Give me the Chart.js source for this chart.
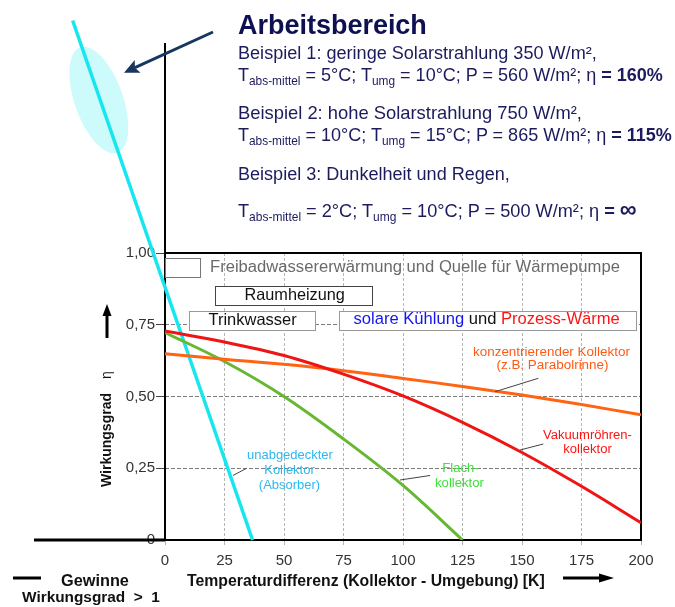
<!DOCTYPE html>
<html><head><meta charset="utf-8">
<script src="https://cdn.jsdelivr.net/npm/chart.js@4/dist/chart.umd.min.js"></script>
<style>
html,body{margin:0;padding:0;background:#fff;}
#wrap{position:relative;width:675px;height:607px;overflow:hidden;background:#fff;}
canvas{position:absolute;left:0;top:0;}
.lbl{position:absolute;white-space:nowrap;line-height:1;font-family:'Liberation Sans',Arial,sans-serif;}
.lbl sub{font-size:0.66em;vertical-align:-0.32em;line-height:0;}
.box{position:absolute;background:#fff;box-sizing:border-box;}
.rot{position:absolute;white-space:nowrap;line-height:1;font-family:'Liberation Sans',Arial,sans-serif;transform-origin:0 0;transform:rotate(-90deg);color:#111;}
</style></head><body>
<div id="wrap"><canvas id="c" width="675" height="607"></canvas></div>
<script>
// ---------------- data ----------------
const tempDiff    = [0, 25, 50, 75, 100, 125, 150, 175, 200];
const vakuumEta   = [0.728, 0.690, 0.643, 0.578, 0.502, 0.410, 0.305, 0.187, 0.060];
const konzEta     = [0.649, 0.630, 0.612, 0.590, 0.563, 0.535, 0.505, 0.472, 0.436];
const flachTemp   = [0, 25, 50, 75, 100, 125];
const flachEta    = [0.723, 0.622, 0.500, 0.352, 0.190, 0.000];
const absorberTemp = [-38.8, 36.8];
const absorberEta  = [1.81, 0.00];
const xTickLabels = ['0','25','50','75','100','125','150','175','200'];
const yTickLabels = ['0','0,25','0,50','0,75','1,00'];

const FONT = "'Liberation Sans', Arial, sans-serif";
const pts = (xs, ys) => xs.map((x, i) => ({x: x, y: ys[i]}));

function arrow(ctx, x1, y1, x2, y2, w, head, hw, notch, color){
  const ang = Math.atan2(y2 - y1, x2 - x1);
  const c = Math.cos(ang), s = Math.sin(ang);
  const bx = x2 - head * c, by = y2 - head * s;
  ctx.strokeStyle = color; ctx.fillStyle = color; ctx.lineWidth = w; ctx.lineCap = 'butt';
  ctx.beginPath(); ctx.moveTo(x1, y1); ctx.lineTo(bx + notch * c, by + notch * s); ctx.stroke();
  ctx.beginPath(); ctx.moveTo(x2, y2);
  ctx.lineTo(bx + hw * s, by - hw * c);
  ctx.lineTo(bx + notch * c, by + notch * s);
  ctx.lineTo(bx - hw * s, by + hw * c);
  ctx.closePath(); ctx.fill();
}
function seg(ctx, x1, y1, x2, y2, w, color){
  ctx.strokeStyle = color; ctx.lineWidth = w;
  ctx.beginPath(); ctx.moveTo(x1, y1); ctx.lineTo(x2, y2); ctx.stroke();
}

const decor = {
  id: 'decor',
  beforeDatasetsDraw(chart){
    const ctx = chart.ctx, a = chart.chartArea;
    ctx.save();
    ctx.fillStyle = '#cdfbfb';
    ctx.beginPath(); ctx.ellipse(98.8, 100, 55.8, 24.3, 1.232, 0, Math.PI * 2); ctx.fill();
    ctx.strokeStyle = '#000'; ctx.lineWidth = 2;
    ctx.strokeRect(a.left, a.top, a.right - a.left, a.bottom - a.top);
    seg(ctx, a.left, 43, a.left, a.bottom, 2, '#000');
    seg(ctx, 34, a.bottom, a.left, a.bottom, 3, '#000');
    ctx.restore();
  },
  afterDatasetsDraw(chart){
    const ctx = chart.ctx;
    ctx.save();
    seg(ctx, 538.3, 378.3, 495, 391.7, 1, '#444');
    seg(ctx, 543.3, 444, 520, 450, 1, '#444');
    seg(ctx, 430, 475.5, 400, 480, 1, '#444');
    seg(ctx, 246.5, 468.3, 233, 475.5, 1, '#444');
    seg(ctx, 13, 578, 41, 578, 3, '#000');
    arrow(ctx, 213, 32, 124, 72.7, 3, 15, 7, 3, '#17375e');
    arrow(ctx, 563, 578, 614, 578, 3, 15, 4.5, 0, '#000');
    arrow(ctx, 107, 338, 107, 304, 3, 12, 4.5, 0, '#000');
    ctx.restore();
  }
};

const chart = new Chart(document.getElementById('c'), {
  type: 'line',
  data: {
    datasets: [
      {label: 'Vakuumröhrenkollektor', data: pts(tempDiff, vakuumEta), borderColor: '#f01414', borderWidth: 3, pointRadius: 0, tension: 0.35},
      {label: 'konzentrierender Kollektor', data: pts(tempDiff, konzEta), borderColor: '#ff6414', borderWidth: 3, pointRadius: 0, tension: 0.35},
      {label: 'Flachkollektor', data: pts(flachTemp, flachEta), borderColor: '#66b832', borderWidth: 3, pointRadius: 0, tension: 0.35},
      {label: 'unabgedeckter Kollektor', data: pts(absorberTemp, absorberEta), borderColor: '#18e6ee', borderWidth: 3.5, pointRadius: 0, clip: false}
    ]
  },
  options: {
    responsive: false, animation: false,
    layout: {padding: {top: 253, right: 34, left: 0, bottom: 0}},
    plugins: {legend: {display: false}, tooltip: {enabled: false}},
    scales: {
      x: {
        type: 'linear', min: 0, max: 200,
        afterFit(s){ s.height = 67; },
        ticks: {stepSize: 25, autoSkip: false, maxRotation: 0, padding: 7, color: '#333',
                font: {size: 15, family: FONT}, callback: (v, i) => xTickLabels[i]},
        grid: {color: '#b4b4b4', lineWidth: 1, tickLength: 5, tickColor: '#b4b4b4'},
        border: {display: false, dash: [3, 2]}
      },
      y: {
        min: 0, max: 1,
        afterFit(s){ s.width = 165; },
        ticks: {stepSize: 0.25, padding: 1, color: '#333',
                font: {size: 15, family: FONT}, callback: (v, i) => yTickLabels[i]},
        grid: {color: '#7c7c7c', lineWidth: 1, tickLength: 9, tickColor: '#444'},
        border: {display: false, dash: [4, 2]}
      }
    }
  },
  plugins: [decor]
});

// ---------------- text overlays ----------------
const wrap = document.getElementById('wrap');
const NAVY = '#1b1b5e';
const boxes = [
  [165, 258, 36, 20, '#777'],
  [214.5, 285.5, 158, 20, '#444'],
  [188.5, 310.5, 127, 20.5, '#999'],
  [338.5, 310.5, 298, 20.5, '#999']
];
boxes.forEach(b => {
  const d = document.createElement('div'); d.className = 'box';
  Object.assign(d.style, {left: b[0] + 'px', top: b[1] + 'px', width: b[2] + 'px', height: b[3] + 'px', border: '1px solid ' + b[4]});
  wrap.appendChild(d);
});

const texts = [
  {h: 'Arbeitsbereich', x1: 238, x2: 427, b: 35, w: 'bold', c: '#0e1052'},
  {h: 'Beispiel 1: geringe Solarstrahlung 350 W/m²,', x1: 238, x2: 597, b: 59.5, c: NAVY},
  {h: 'T<sub>abs-mittel</sub> = 5°C; T<sub>umg</sub> = 10°C; P = 560 W/m²; η <b>= 160%</b>', x1: 238, x2: 663, b: 81, c: NAVY},
  {h: 'Beispiel 2: hohe Solarstrahlung 750 W/m²,', x1: 238, x2: 582, b: 119.5, c: NAVY},
  {h: 'T<sub>abs-mittel</sub> = 10°C; T<sub>umg</sub> = 15°C; P = 865 W/m²; η <b>= 115%</b>', x1: 238, x2: 672, b: 141.5, c: NAVY},
  {h: 'Beispiel 3: Dunkelheit und Regen,', x1: 238, x2: 510, b: 180, c: NAVY},
  {h: 'T<sub>abs-mittel</sub> = 2°C; T<sub>umg</sub> = 10°C; P = 500 W/m²; η <b>= <span style="font-size:1.3em">∞</span></b>', x1: 238, x2: 637, b: 213.5, c: NAVY},

  {h: 'Freibadwassererwärmung und Quelle für Wärmepumpe', x1: 210, x2: 620, b: 273.3, c: '#6a6a6a'},
  {h: 'Raumheizung', x1: 244.5, x2: 345, b: 300, c: '#111'},
  {h: 'Trinkwasser', x1: 208.5, x2: 296.7, b: 325.3, c: '#111'},
  {h: '<span style="color:#1414ee">solare Kühlung</span> und <span style="color:#ff1414">Prozess-Wärme</span>', x1: 353.5, x2: 620, b: 325.3, c: '#111'},

  {h: 'konzentrierender Kollektor', x1: 473, x2: 630, b: 356.5, c: '#ff5a14', id: 'konz'},
  {h: '(z.B. Parabolrinne)', cx: 552.5, ref: 'konz', b: 369.5, c: '#ff5a14'},
  {h: 'Vakuumröhren-', x1: 543, x2: 632, b: 439.5, c: '#ff1414', id: 'vak'},
  {h: 'kollektor', cx: 587.5, ref: 'vak', b: 453.5, c: '#ff1414'},
  {h: 'kollektor', x1: 435, x2: 484, b: 487, c: '#3ee03e', id: 'fl'},
  {h: 'Flach-', cx: 460.5, ref: 'fl', b: 472.5, c: '#3ee03e'},
  {h: 'unabgedeckter', x1: 247, x2: 333, b: 459.5, c: '#2cb8f0', id: 'ab'},
  {h: 'Kollektor', cx: 289.5, ref: 'ab', b: 474.5, c: '#2cb8f0'},
  {h: '(Absorber)', cx: 289.5, ref: 'ab', b: 489, c: '#2cb8f0'},

  {h: 'Temperaturdifferenz (Kollektor - Umgebung) [K]', x1: 187, x2: 545, b: 586, w: 'bold', c: '#111'},
  {h: 'Gewinne', x1: 61, x2: 129, b: 586, w: 'bold', c: '#111'},
  {h: 'Wirkungsgrad &nbsp;&gt;&nbsp; 1', x1: 22, x2: 160, b: 602.5, w: 'bold', c: '#111'}
];
const sizes = {};
texts.forEach(t => {
  const el = document.createElement('div'); el.className = 'lbl';
  el.innerHTML = t.h; el.style.color = t.c; el.style.fontWeight = t.w || 'normal';
  el.style.fontSize = '20px';
  wrap.appendChild(el);
  let fs;
  if (t.ref) {
    fs = sizes[t.ref];
    el.style.fontSize = fs + 'px';
    const w = el.getBoundingClientRect().width;
    el.style.left = (t.cx - w / 2) + 'px';
  } else {
    const w = el.getBoundingClientRect().width;
    fs = 20 * (t.x2 - t.x1) / w;
    el.style.fontSize = fs + 'px';
    el.style.left = t.x1 + 'px';
  }
  if (t.id) sizes[t.id] = fs;
  el.style.top = (t.b - 0.8465 * fs) + 'px';
});

function rot(html, weight, fs, xBase, yStart){
  const el = document.createElement('div'); el.className = 'rot';
  el.innerHTML = html; el.style.fontWeight = weight; el.style.fontSize = fs + 'px';
  el.style.left = (xBase - 0.8465 * fs) + 'px'; el.style.top = yStart + 'px';
  wrap.appendChild(el);
}
rot('Wirkungsgrad', 'bold', 14, 110.5, 487);
rot('η', 'normal', 14, 110.5, 379);
</script>
</body></html>
